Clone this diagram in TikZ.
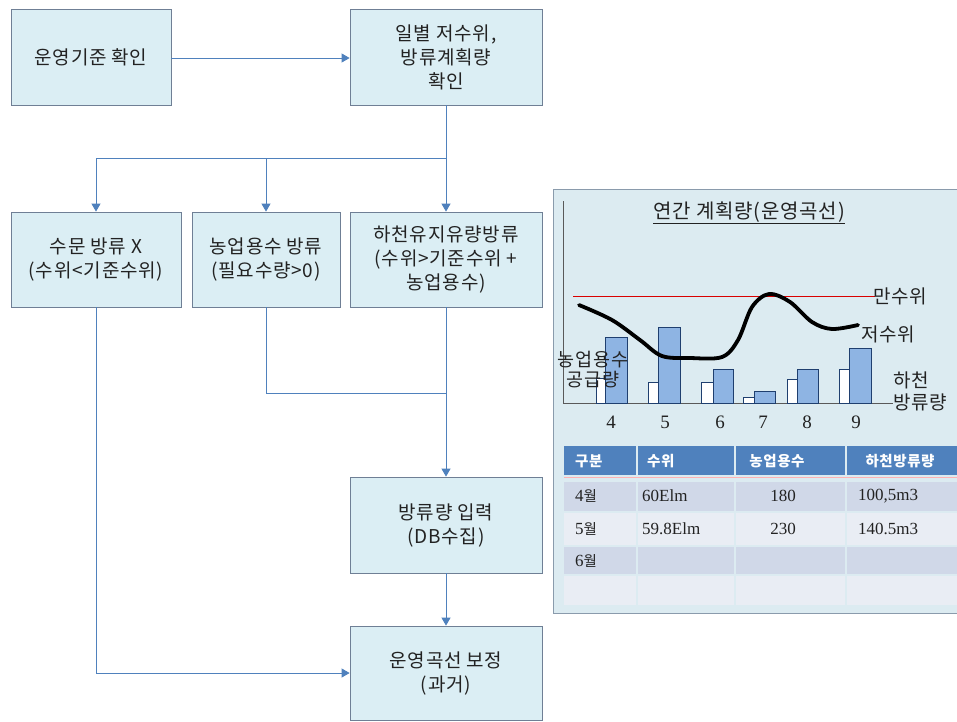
\documentclass[tikz,border=0pt]{standalone}
\usepackage{fontspec}
\setmainfont[LetterSpace=4]{Noto Sans CJK KR}
\newfontfamily\numfont{Liberation Serif}
\usetikzlibrary{arrows.meta}
\definecolor{boxfill}{HTML}{DBEEF4}
\definecolor{boxline}{HTML}{6F7F95}
\definecolor{connc}{HTML}{4F81BD}
\definecolor{panelfill}{HTML}{DCEBF1}
\definecolor{panelline}{HTML}{8A9BAC}
\definecolor{barblue}{HTML}{8EB4E3}
\definecolor{barline}{HTML}{1F3F6F}
\definecolor{hdr}{HTML}{4F81BD}
\definecolor{rowa}{HTML}{D0D8E8}
\definecolor{rowb}{HTML}{E9EDF4}
\definecolor{txt}{HTML}{222222}
\begin{document}
\begin{tikzpicture}[x=1pt,y=-1pt,
  box/.style={draw=boxline, fill=boxfill, line width=0.8pt, align=center,
    font=\fontsize{19}{24}\selectfont, text=txt, inner sep=0pt},
  conn/.style={draw=connc, line width=0.9pt},
  arr/.style={conn, -{Triangle[length=8pt,width=9pt]}},
  lbl/.style={font=\fontsize{19}{22}\selectfont, text=txt, inner sep=0pt},
  num/.style={font=\numfont\fontsize{19}{20}\selectfont, text=txt, inner sep=0pt},
  wbar/.style={draw=barline, fill=white, line width=0.5pt},
  bbar/.style={draw=barline, fill=barblue, line width=0.7pt},
  hcell/.style={fill=hdr},
  cella/.style={fill=rowa},
  cellb/.style={fill=rowb},
  htext/.style={font=\bfseries\fontsize{14.5}{16}\selectfont, text=white, inner sep=0pt},
  ctext/.style={font=\fontsize{14.5}{16}\selectfont, text=txt, inner sep=0pt},
  cnum/.style={font=\numfont\fontsize{17}{18}\selectfont, text=txt, inner sep=0pt}]
\useasboundingbox (0,0) rectangle (957,721);
\clip (0,0) rectangle (957,721);
\fill[white] (0,0) rectangle (957,721);

% flow boxes
\node[box, minimum width=160pt, minimum height=96pt] (b1) at (91,57) {운영기준 확인};
\node[box, minimum width=192pt, minimum height=96pt] (b2) at (446,57) {일별 저수위,\\방류계획량\\확인};
\node[box, minimum width=170pt, minimum height=95pt] (ba) at (96,259.5) {수문 방류 X\\(수위<기준수위)};
\node[box, minimum width=148pt, minimum height=95pt] (bb) at (266,259.5) {농업용수 방류\\(필요수량>0)};
\node[box, minimum width=192pt, minimum height=95pt] (bc) at (446,259.5) {하천유지유량방류\\(수위>기준수위 +\\농업용수)};
\node[box, minimum width=192pt, minimum height=96pt] (bd) at (446,525) {방류량 입력\\(DB수집)};
\node[box, minimum width=192pt, minimum height=94pt] (be) at (446,673) {운영곡선 보정\\(과거)};

\coordinate (j1) at (446,158);
\coordinate (ja) at (96,158);
\coordinate (jb) at (266,158);
\coordinate (j2) at (266,393);
\coordinate (j3) at (446,393);

\draw[arr] (b1.east |- 0,58) -- (b2.west |- 0,58);
\draw[conn] (b2.south) -- (j1) -- (ja);
\draw[arr] (ja) -- (ba.north);
\draw[arr] (jb) -- (bb.north);
\draw[arr] (j1) -- (bc.north);
\draw[conn] (bb.south) -- (j2) -- (j3);
\draw[arr] (bc.south) -- (bd.north);
\draw[arr] (bd.south) -- (be.north);
\draw[arr] (ba.south) |- (be.west);

% chart panel
\draw[draw=panelline, fill=panelfill, line width=0.8pt] (553,189) rectangle (970,613);
\draw[draw=gray!70!black, line width=0.6pt] (563,201) -- (563,403) -- (893,403);
\node[lbl, font=\fontsize{20}{22}\selectfont] (title) at (749,213) {\underline{연간 계획량(운영곡선)}};

% bars
\draw[wbar] (596,378) rectangle (605,403);
\draw[bbar] (605,337) rectangle (627,403);
\draw[wbar] (648,382) rectangle (658,403);
\draw[bbar] (658,327) rectangle (680,403);
\draw[wbar] (701,382) rectangle (713,403);
\draw[bbar] (713,369) rectangle (733,403);
\draw[wbar] (743,397) rectangle (754,403);
\draw[bbar] (754,391) rectangle (775,403);
\draw[wbar] (787,379) rectangle (797,403);
\draw[bbar] (797,369) rectangle (818,403);
\draw[wbar] (839,369) rectangle (849,403);
\draw[bbar] (849,348) rectangle (871,403);

\draw[red!85!black, line width=0.8pt] (573,296) -- (875,296);
\draw[black, line width=3.8pt, line cap=round] plot[smooth, tension=0.55] coordinates
  {(579,305) (612,320) (640,340) (662,356) (690,358) (722,357) (738,340) (752,307) (769,294) (790,302) (812,322) (832,329) (858,325)};

\node[lbl, anchor=west] (mansu) at (873,296) {만수위};
\node[lbl, anchor=west] (jeosu) at (861,334) {저수위};
\node[lbl, align=center, font=\fontsize{18.5}{20}\selectfont] (nong) at (593,370) {농업용수\\공급량};
\node[lbl, align=left, anchor=west, font=\fontsize{19}{22}\selectfont] (hacheon) at (893,391) {\hspace*{0pt}하천\\방류량};

\node[num] (m4) at (611,422) {4};
\node[num] (m5) at (665,422) {5};
\node[num] (m6) at (720,422) {6};
\node[num] (m7) at (763,422) {7};
\node[num] (m8) at (807,422) {8};
\node[num] (m9) at (856,422) {9};

% table
\fill[hcell] (564,446) rectangle (636,475);
\fill[hcell] (638,446) rectangle (734,475);
\fill[hcell] (736,446) rectangle (845,475);
\fill[hcell] (847,446) rectangle (970,475);
\foreach \ya/\yb/\st in {482/511/cella, 513/545/cellb, 547/574/cella, 576/605/cellb}{
  \fill[\st] (564,\ya) rectangle (636,\yb);
  \fill[\st] (638,\ya) rectangle (734,\yb);
  \fill[\st] (736,\ya) rectangle (845,\yb);
  \fill[\st] (847,\ya) rectangle (970,\yb);
}
\draw[red!30, line width=0.8pt] (564,477) -- (970,477);

\node[htext, anchor=west] (h1) at (575,461) {구분};
\node[htext, anchor=west] (h2) at (647,461) {수위};
\node[htext] (h3) at (777,461) {농업용수};
\node[htext] (h4) at (900,461) {하천방류량};

\node[ctext, anchor=west] (r1a) at (575,496) {{\numfont\fontsize{17}{18}\selectfont 4}월};
\node[cnum, anchor=west] (r1b) at (642,496) {60Elm};
\node[cnum] (r1c) at (783,496) {180};
\node[cnum, anchor=west] (r1d) at (858,496) {100,5m3};

\node[ctext, anchor=west] (r2a) at (575,529) {{\numfont\fontsize{17}{18}\selectfont 5}월};
\node[cnum, anchor=west] (r2b) at (642,529) {59.8Elm};
\node[cnum] (r2c) at (783,529) {230};
\node[cnum, anchor=west] (r2d) at (858,529) {140.5m3};

\node[ctext, anchor=west] (r3a) at (575,561) {{\numfont\fontsize{17}{18}\selectfont 6}월};
\end{tikzpicture}
\end{document}
